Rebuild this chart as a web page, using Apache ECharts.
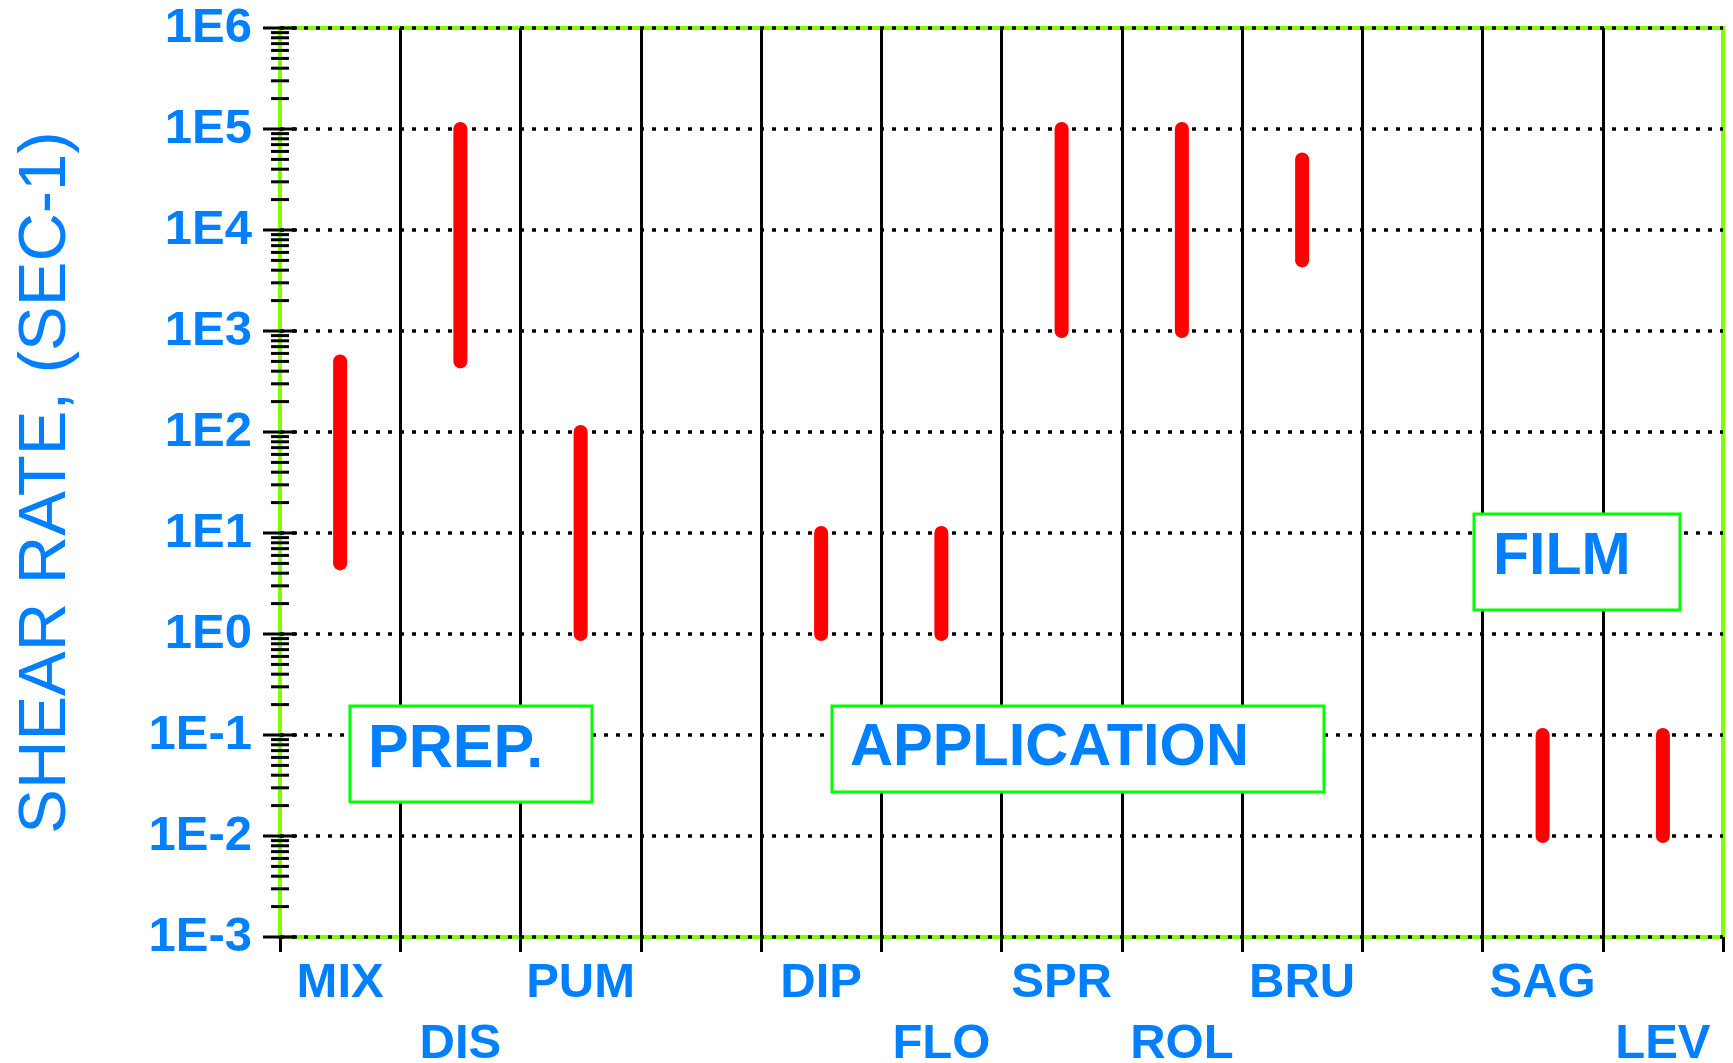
<!DOCTYPE html>
<html lang="en">
<head>
    <meta charset="utf-8">
    <style>
        html, body, #container {
          width: 100%;
          height: 100%;
          margin: 0;
          padding: 0;
          background: #fff;
        }
    </style>
</head>
<body>
<div id="container"></div>
<script type="text/javascript" src="https://cdn.jsdelivr.net/npm/echarts@6/dist/echarts.min.js"></script>
<script type="text/javascript">
  // chart values
  var categories = ['MIX', 'DIS', 'PUM', '', 'DIP', 'FLO', 'SPR', 'ROL', 'BRU', '', 'SAG', 'LEV'];
  var rangeLow  = [5, 500, 1, null, 1, 1, 1000, 1000, 5000, null, 0.01, 0.01];
  var rangeHigh = [500, 100000, 100, null, 10, 10, 100000, 100000, 50000, null, 0.1, 0.1];
  var yTickLabels = ['1E-3', '1E-2', '1E-1', '1E0', '1E1', '1E2', '1E3', '1E4', '1E5', '1E6'];
  var yMajorTicks = [0.001, 0.01, 0.1, 1, 10, 100, 1000, 10000, 100000, 1000000];
  var yMinorSteps = [2, 3, 4, 5, 6, 7, 8, 9];
  var boxLabels = ['PREP.', 'APPLICATION', 'FILM'];

  var BLUE = '#0080ff';
  var FONT = '"Liberation Sans", Arial, sans-serif';

  var dom = document.getElementById('container');
  var myChart = echarts.init(dom, null, { renderer: 'canvas' });

  var rangeData = [];
  for (var i = 0; i < categories.length; i++) {
    if (rangeLow[i] != null) rangeData.push([i, rangeLow[i], rangeHigh[i]]);
  }

  var tickData = [];
  for (var k = 0; k < yMajorTicks.length; k++) {
    tickData.push([0, yMajorTicks[k], 1]);
    if (k < yMajorTicks.length - 1) {
      yMinorSteps.forEach(function (m) { tickData.push([0, yMajorTicks[k] * m, 0]); });
    }
  }

  function box(x, y, w, h, label, tx, ty, size) {
    return [{
      type: 'rect', z: 100,
      shape: { x: x, y: y, width: w, height: h },
      style: { fill: '#fff', stroke: '#00ff00', lineWidth: 3 }
    }, {
      type: 'text', z: 101, x: tx, y: ty,
      style: {
        text: label, fill: BLUE, fontSize: size, fontWeight: 'bold',
        fontFamily: FONT, verticalAlign: 'middle'
      }
    }];
  }

  var option = {
    animation: false,
    grid: {
      left: 280, right: 10, top: 28, bottom: 126,
      outerBoundsMode: 'none',
      show: true, borderColor: '#80ff00', borderWidth: 4,
      backgroundColor: 'transparent'
    },
    xAxis: {
      type: 'category',
      data: categories,
      boundaryGap: true,
      axisLine: { show: false },
      axisTick: { show: true, length: 15, lineStyle: { color: '#000', width: 3 } },
      axisLabel: {
        interval: 0, margin: 16, color: BLUE, fontSize: 49, fontWeight: 'bold',
        fontFamily: FONT, lineHeight: 61,
        formatter: function (v, idx) { return idx % 2 ? '\n' + v : v; }
      },
      splitLine: { show: true, showMinLine: false, showMaxLine: false,
        lineStyle: { color: '#000', width: 3 } }
    },
    yAxis: {
      type: 'log',
      logBase: 10,
      min: 0.001,
      max: 1000000,
      interval: 1,
      name: 'SHEAR RATE, (SEC-1)',
      nameLocation: 'middle',
      nameGap: 200,
      nameTextStyle: { color: BLUE, fontSize: 67, fontFamily: FONT, fontWeight: 'normal' },
      axisLine: { show: false },
      axisTick: { show: false },
      axisLabel: {
        margin: 28, color: BLUE, fontSize: 49, fontWeight: 'bold', fontFamily: FONT,
        formatter: function (v) { return yTickLabels[Math.round(Math.log10(v)) + 3]; }
      },
      splitLine: { show: true, lineStyle: { color: '#000', width: 3.5, type: [4, 8] } }
    },
    series: [{
      type: 'custom',
      name: 'ticks',
      clip: false,
      z: 5,
      data: tickData,
      renderItem: function (params, api) {
        var y = api.coord([0, api.value(1)])[1];
        var x0 = params.coordSys.x;
        var half = api.value(2) ? 17 : 9;
        return {
          type: 'line',
          shape: { x1: x0 - half, y1: y, x2: x0 + half, y2: y },
          style: { stroke: '#000', lineWidth: 3 }
        };
      }
    }, {
      type: 'custom',
      name: 'range',
      z: 10,
      data: rangeData,
      encode: { x: 0, y: [1, 2] },
      renderItem: function (params, api) {
        var p1 = api.coord([api.value(0), api.value(1)]);
        var p2 = api.coord([api.value(0), api.value(2)]);
        return {
          type: 'line',
          shape: { x1: p1[0], y1: p1[1], x2: p2[0], y2: p2[1] },
          style: { stroke: '#ff0000', lineWidth: 14, lineCap: 'round' }
        };
      }
    }],
    graphic: [].concat(
      box(350, 706, 242, 96, boxLabels[0], 368, 750, 61),
      box(832, 706, 492, 86, boxLabels[1], 850, 749, 59.5),
      box(1474, 514, 206, 96, boxLabels[2], 1493, 558, 59)
    )
  };

  myChart.setOption(option);
  window.addEventListener('resize', myChart.resize);
</script>
</body>
</html>
